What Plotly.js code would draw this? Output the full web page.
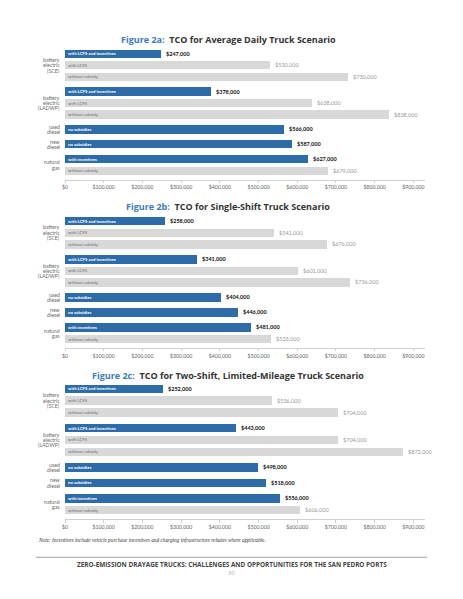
<!DOCTYPE html>
<html>
<head>
<meta charset="utf-8">
<script src="https://cdn.plot.ly/plotly-3.0.1.min.js"></script>
<style>
html,body{margin:0;padding:0;background:#fff;}
#chart{width:463px;height:599px;}
</style>
</head>
<body>
<div id="chart"></div>
<script>
// ---------- data ----------
const groupLabels = [
  ["battery", "electric", "(SCE)"],
  ["battery", "electric", "(LADWP)"],
  ["used", "diesel"],
  ["new", "diesel"],
  ["natural", "gas"]
];
const rowGroup = [0, 0, 0, 1, 1, 1, 2, 3, 4, 4];
const rowLabels = [
  "with LCFS and incentives", "with LCFS", "without subsidy",
  "with LCFS and incentives", "with LCFS", "without subsidy",
  "no subsidies", "no subsidies",
  "with incentives", "without subsidy"
];
const valuesA = [247000, 530000, 730000, 378000, 638000, 838000, 566000, 587000, 627000, 679000];
const valuesB = [258000, 541000, 676000, 341000, 601000, 736000, 404000, 446000, 481000, 533000];
const valuesC = [252000, 536000, 704000, 443000, 704000, 872000, 498000, 518000, 556000, 606000];
const figureIds = ["Figure 2a:", "Figure 2b:", "Figure 2c:"];
const figureTitles = [
  "TCO for Average Daily Truck Scenario",
  "TCO for Single-Shift Truck Scenario",
  "TCO for Two-Shift, Limited-Mileage Truck Scenario"
];
const xTickValues = [0, 100000, 200000, 300000, 400000, 500000, 600000, 700000, 800000, 900000];
const xTickLabels = ["$0", "$100,000", "$200,000", "$300,000", "$400,000", "$500,000", "$600,000", "$700,000", "$800,000", "$900,000"];
const noteText = "Note: Incentives include vehicle purchase incentives and charging infrastructure rebates where applicable.";
const footerText = "ZERO-EMISSION DRAYAGE TRUCKS: CHALLENGES AND OPPORTUNITIES FOR THE SAN PEDRO PORTS";
const pageNumber = "30";

// ---------- layout helpers ----------
const W = 463, H = 599;
const BLUE = "#2d6ca9", GREY = "#d8d8d8";
const GAP = 0.3;
const rowPos = rowLabels.map((_, i) => i + rowGroup[i] * GAP);
const isFirst = rowGroup.map((g, i) => i === 0 || rowGroup[i - 1] !== g);
const groupCenters = groupLabels.map((_, g) => {
  const p = rowPos.filter((_, i) => rowGroup[i] === g);
  return (Math.min(...p) + Math.max(...p)) / 2;
});
const yMin = -0.5, yMax = rowPos[rowPos.length - 1] + 0.785;
const fmt = v => "$" + v.toLocaleString("en-US");
const pyf = p => 1 - p / H;

// pixel geometry per panel: first bar centre, px per row unit, title centre
const panels = [
  {vals: valuesA, c0: 53.8, unit: 11.46, ty: 40},
  {vals: valuesB, c0: 221.3, unit: 11.54, ty: 207},
  {vals: valuesC, c0: 388.8, unit: 11.9, ty: 375.5}
];
const xDom = [65 / W, 425 / W];

const traces = [];
const annotations = [];
const layout = {
  width: W, height: H,
  margin: {l: 0, r: 0, t: 0, b: 0},
  paper_bgcolor: "#fff", plot_bgcolor: "#fff",
  showlegend: false,
  bargap: 0,
  font: {family: "Lato, 'DejaVu Sans', sans-serif", color: "#555"},
  annotations: annotations,
  shapes: []
};

panels.forEach((p, k) => {
  const sfx = k === 0 ? "" : String(k + 1);
  const xa = "x" + sfx, ya = "y" + sfx;
  const top = p.c0 + yMin * p.unit;
  const bot = p.c0 + yMax * p.unit;

  traces.push({
    type: "bar", orientation: "h",
    x: p.vals, y: rowPos,
    xaxis: xa, yaxis: ya,
    width: 0.72,
    marker: {color: isFirst.map(f => f ? BLUE : GREY), line: {width: 0}},
    text: rowLabels.map((t, i) => isFirst[i] ? "<b>" + t + "</b>" : t),
    textposition: "inside",
    insidetextanchor: "start",
    constraintext: "none",
    textangle: 0,
    insidetextfont: {size: 4.3, family: "Lato, sans-serif", color: isFirst.map(f => f ? "#ffffff" : "#727272")},
    hoverinfo: "skip", cliponaxis: false
  });

  // value labels at bar ends
  p.vals.forEach((v, i) => {
    annotations.push({
      xref: xa, yref: ya, x: v, y: rowPos[i],
      xanchor: "left", yanchor: "middle", xshift: 3,
      showarrow: false,
      text: isFirst[i] ? "<b>" + fmt(v) + "</b>" : fmt(v),
      font: {size: 5.5, family: "Lato, sans-serif", color: isFirst[i] ? "#111111" : "#9a9a9a"}
    });
  });

  layout["xaxis" + sfx] = {
    domain: xDom, anchor: ya, range: [0, 930000],
    tickvals: xTickValues, ticktext: xTickLabels,
    showgrid: false, zeroline: false,
    showline: true, linecolor: "#c4c4c4", linewidth: 0.8,
    ticks: "outside", ticklen: 2.5, tickcolor: "#c4c4c4", tickwidth: 0.8,
    tickfont: {size: 5.2, color: "#666", family: "Lato, sans-serif"},
    fixedrange: true
  };
  layout["yaxis" + sfx] = {
    domain: [pyf(bot), pyf(top)], anchor: xa,
    range: [yMax, yMin],
    showticklabels: false, showgrid: false, zeroline: false, showline: false, ticks: "",
    fixedrange: true
  };

  // group labels, one annotation per line
  groupLabels.forEach((lines, g) => {
    lines.forEach((ln, j) => {
      annotations.push({
        xref: "paper", yref: ya, x: 62 / W, y: groupCenters[g],
        xanchor: "right", yanchor: "middle",
        yshift: -(j - (lines.length - 1) / 2) * 5.4,
        text: ln, showarrow: false,
        font: {size: 5.2, color: "#6a6a6a", family: "Lato, sans-serif"}
      });
    });
  });

  // panel title
  annotations.push({
    xref: "paper", yref: "paper", x: 228 / W, y: pyf(p.ty),
    xanchor: "center", yanchor: "middle",
    text: "<b><span style='color:#3b7bbb'>" + figureIds[k] + "</span>  " + figureTitles[k] + "</b>",
    showarrow: false,
    font: {size: 9, color: "#333333", family: "'Open Sans', sans-serif"}
  });
});

// note
annotations.push({
  xref: "paper", yref: "paper", x: 36 / W, y: pyf(540),
  xanchor: "left", yanchor: "middle", showarrow: false,
  text: "<i>" + noteText + "</i>",
  font: {size: 5.3, color: "#333", family: "'Liberation Serif', 'DejaVu Serif', serif"}
});
// footer rule
layout.shapes.push({
  type: "line", xref: "paper", yref: "paper",
  x0: 36 / W, x1: 427 / W, y0: pyf(557.3), y1: pyf(557.3),
  line: {color: "#b5b5b5", width: 1.3}
});
annotations.push({
  xref: "paper", yref: "paper", x: 231.5 / W, y: pyf(564.5),
  xanchor: "center", yanchor: "middle", showarrow: false,
  text: "<b>" + footerText + "</b>",
  font: {size: 6.4, color: "#444", family: "'Open Sans', sans-serif"}
});
annotations.push({
  xref: "paper", yref: "paper", x: 231 / W, y: pyf(573.3),
  xanchor: "center", yanchor: "middle", showarrow: false,
  text: pageNumber,
  font: {size: 5.5, color: "#aaa", family: "'Open Sans', sans-serif"}
});

Plotly.newPlot("chart", traces, layout, {staticPlot: true, displayModeBar: false});
</script>
</body>
</html>
